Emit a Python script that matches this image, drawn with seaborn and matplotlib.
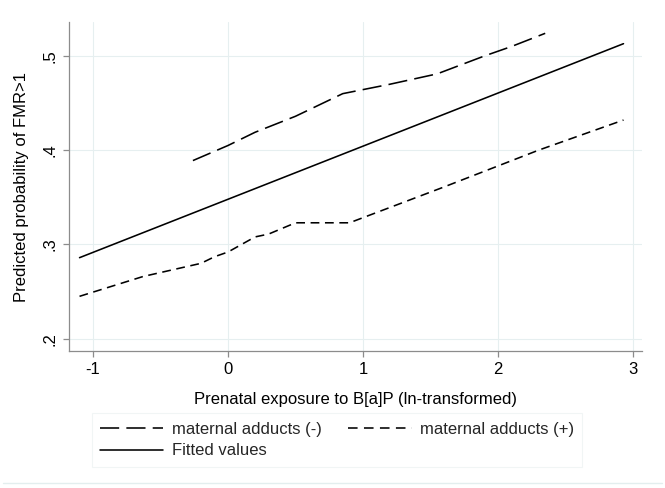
import matplotlib
matplotlib.use("Agg")
import matplotlib.pyplot as plt
import seaborn as sns
import pandas as pd
from matplotlib.lines import Line2D

# ---- data ----
neg_x = [-0.26, 0.0, 0.2, 0.5, 0.85, 1.2, 1.55, 1.9, 2.1, 2.35]
neg_y = [0.389, 0.405, 0.419, 0.436, 0.460, 0.470, 0.481, 0.500, 0.510, 0.524]

pos_x = [-1.10, -0.63, -0.2, -0.1, 0.0, 0.2, 0.3, 0.5, 0.9, 1.6, 2.3, 2.93]
pos_y = [0.245, 0.266, 0.280, 0.287, 0.292, 0.308, 0.311, 0.323, 0.323, 0.361, 0.400, 0.432]

fit_x = [-1.10, 2.93]
fit_y = [0.286, 0.513]

series_names = ["maternal adducts (-)", "maternal adducts (+)", "Fitted values"]
x_ticks = [-1, 0, 1, 2, 3]
y_ticks = [0.2, 0.3, 0.4, 0.5]
y_tick_labels = [".2", ".3", ".4", ".5"]
x_label = "Prenatal exposure to B[a]P (ln-transformed)"
y_label = "Predicted probability of FMR>1"

df = pd.concat([
    pd.DataFrame({"x": neg_x, "y": neg_y, "series": series_names[0]}),
    pd.DataFrame({"x": pos_x, "y": pos_y, "series": series_names[1]}),
    pd.DataFrame({"x": fit_x, "y": fit_y, "series": series_names[2]}),
], ignore_index=True)

sns.set_theme(style="white")
plt.rcParams["font.family"] = ["Liberation Sans", "DejaVu Sans"]

fig = plt.figure(figsize=(6.65, 4.88), dpi=100)
ax = fig.add_axes([69/665, 1-351/488, (642-69)/665, (351-22)/488])

dash_map = {series_names[0]: (12, 4.5), series_names[1]: (5.5, 3.5), series_names[2]: ""}
sns.lineplot(data=df, x="x", y="y", style="series", dashes=dash_map,
             color="black", linewidth=1.15, estimator=None, sort=False,
             legend=False, ax=ax)

ax.set_xlim(-1.178, 3.067)
ax.set_ylim(0.187, 0.536)
ax.set_xticks(x_ticks)
ax.set_xticklabels([str(t) for t in x_ticks])
ax.set_yticks(y_ticks)
ax.set_yticklabels(y_tick_labels, rotation=90, va="center")

ax.grid(True, color="#e6eff0", linewidth=0.8)
for s in ["top", "right"]:
    ax.spines[s].set_visible(False)
for s in ["left", "bottom"]:
    ax.spines[s].set_color("#8c8c8c")
    ax.spines[s].set_linewidth(0.9)
ax.tick_params(axis="both", which="major", direction="out", length=4, width=0.9,
               color="#8c8c8c", labelsize=12, labelcolor="black", pad=4,
               left=True, bottom=True)

ax.set_xlabel(x_label, fontsize=12, color="black")
ax.set_ylabel(y_label, fontsize=12, color="black")
ax.xaxis.set_label_coords(0.5, -(392-351)/329)
ax.yaxis.set_label_coords(-(69-29)/573, 0.5)

handles = [
    Line2D([], [], color="black", lw=1.15, dashes=(12, 4.5)),
    Line2D([], [], color="black", lw=1.15),
    Line2D([], [], color="black", lw=1.15, dashes=(6, 4)),
]
labels = [series_names[0], series_names[2], series_names[1]]
leg = fig.legend(handles, labels, ncol=2, loc="center",
                 bbox_to_anchor=(337/665, 1-440/488), fontsize=12,
                 handlelength=3.8, handletextpad=0.5, columnspacing=1.6,
                 labelspacing=0.4, borderpad=0.5, frameon=True, fancybox=False)
leg.get_frame().set_edgecolor("#eef3f3")
leg.get_frame().set_linewidth(0.8)

# faint Stata-style bottom border line of the graph region
fig.add_artist(Line2D([0.005, 0.995], [1-483/488, 1-483/488], color="#e3eeee",
                      lw=1.0, transform=fig.transFigure))

fig.savefig("out.png", dpi=100)
